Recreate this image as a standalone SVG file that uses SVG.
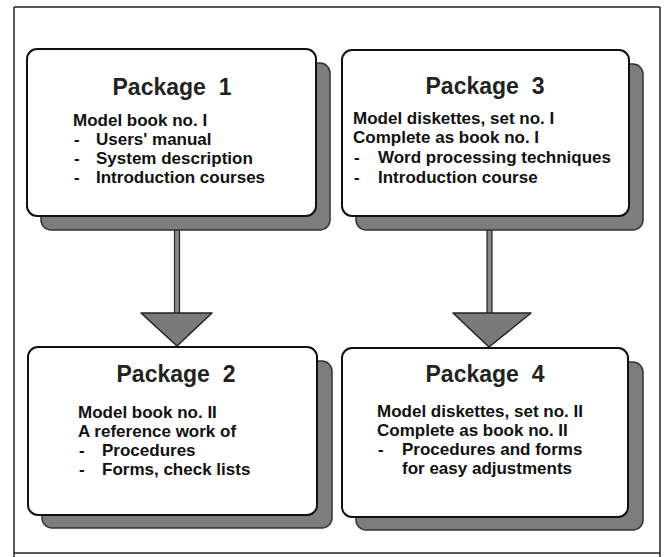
<svg xmlns="http://www.w3.org/2000/svg" width="667" height="557" viewBox="0 0 667 557">
<style>
.frame{fill:none;stroke:#222;stroke-width:1.5}
.box{fill:#fff;stroke:#111;stroke-width:2}
.shadow{fill:#7d7d7d;stroke:#333;stroke-width:1.5}
.title{font-family:"Liberation Sans",Arial,sans-serif;font-size:23px;font-weight:bold;fill:#222;text-anchor:middle;white-space:pre}
.body{font-family:"Liberation Sans",Arial,sans-serif;font-size:17px;font-weight:bold;fill:#111}
.stem{fill:#8a8a8a;stroke:#222;stroke-width:1.2}
.head{fill:#7a7a7a;stroke:#222;stroke-width:1.5;stroke-linejoin:round}
</style>
<rect width="667" height="557" fill="#fff"/>
<g id="frame">
<line class="frame" x1="14" y1="7" x2="660" y2="7" stroke-width="2"/>
<line class="frame" x1="14" y1="7" x2="14" y2="557"/>
<line class="frame" x1="660" y1="7" x2="660" y2="557"/>
<line class="frame" x1="14" y1="553" x2="660" y2="553" stroke="#555" stroke-width="1"/>
</g>
<g id="connectors">
<rect class="stem" x="174.5" y="230" width="5" height="84"/>
<polygon class="head" points="141,313 212,313 177,346"/>
<rect class="stem" x="487" y="230" width="5" height="84"/>
<polygon class="head" points="453,313 531,313 489,347"/>
</g>
<g id="package1">
<rect class="shadow" x="41" y="63" width="289" height="167" rx="10"/>
<rect class="box" x="27" y="49" width="289" height="167" rx="10"/>
<text class="title" x="172" y="95">Package  1</text>
<text class="body" x="73" y="126">Model book no. I</text>
<text class="body" x="74" y="145">-</text><text class="body" x="96" y="145">Users' manual</text>
<text class="body" x="74" y="164">-</text><text class="body" x="96" y="164">System description</text>
<text class="body" x="74" y="183">-</text><text class="body" x="96" y="183">Introduction courses</text>
</g>
<g id="package3">
<rect class="shadow" x="356" y="64" width="287" height="166" rx="10"/>
<rect class="box" x="342" y="50" width="287" height="166" rx="10"/>
<text class="title" x="485" y="94">Package  3</text>
<text class="body" x="353" y="124">Model diskettes, set no. I</text>
<text class="body" x="353" y="143">Complete as book no. I</text>
<text class="body" x="354" y="163">-</text><text class="body" x="378" y="163">Word processing techniques</text>
<text class="body" x="354" y="183">-</text><text class="body" x="378" y="183">Introduction course</text>
</g>
<g id="package2">
<rect class="shadow" x="42" y="361" width="290" height="167" rx="10"/>
<rect class="box" x="28" y="347" width="289" height="168" rx="10"/>
<text class="title" x="176" y="382">Package  2</text>
<text class="body" x="78" y="418">Model book no. II</text>
<text class="body" x="78" y="437">A reference work of</text>
<text class="body" x="79" y="456">-</text><text class="body" x="102" y="456">Procedures</text>
<text class="body" x="79" y="475">-</text><text class="body" x="102" y="475">Forms, check lists</text>
</g>
<g id="package4">
<rect class="shadow" x="356" y="362" width="287" height="168" rx="10"/>
<rect class="box" x="342" y="348" width="286" height="169" rx="10"/>
<text class="title" x="485" y="382">Package  4</text>
<text class="body" x="377" y="417">Model diskettes, set no. II</text>
<text class="body" x="377" y="436">Complete as book no. II</text>
<text class="body" x="378" y="455">-</text><text class="body" x="402" y="455">Procedures and forms</text>
<text class="body" x="402" y="474">for easy adjustments</text>
</g>
</svg>
